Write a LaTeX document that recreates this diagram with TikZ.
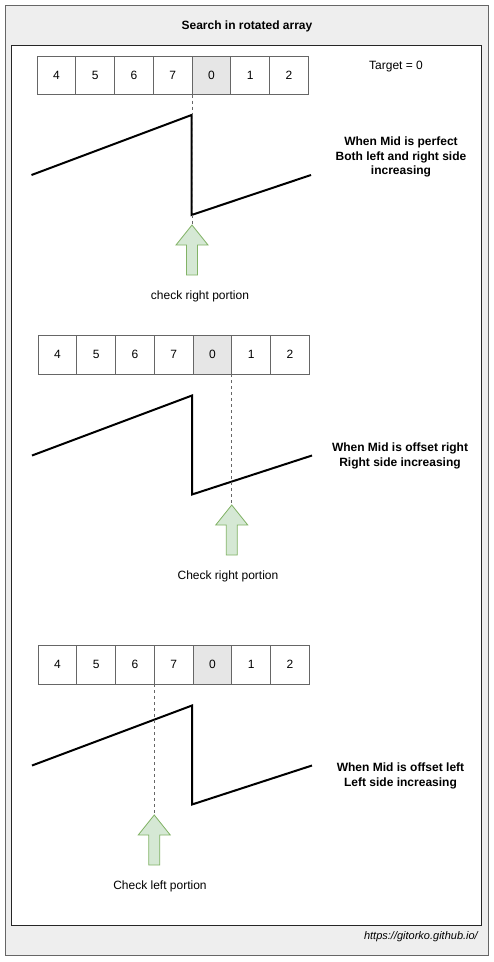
\documentclass[tikz,border=0pt]{standalone}
\usepackage{fontspec}
\setmainfont{Liberation Sans}
\definecolor{bggray}{HTML}{EEEEEE}
\definecolor{framegray}{HTML}{666666}
\definecolor{cellhl}{HTML}{E6E6E6}
\definecolor{greenfill}{HTML}{D5E8D4}
\definecolor{greendraw}{HTML}{82B366}
\begin{document}
\begin{tikzpicture}[x=1pt,y=-1pt,
  cellbox/.style={draw=framegray, line width=0.8pt, minimum width=38.75pt, minimum height=38.5pt, inner sep=0pt, outer sep=0pt, anchor=north west, font=\fontsize{12}{14}\selectfont},
  plain/.style={font=\fontsize{12}{14}\selectfont, inner sep=0pt},
  boldtxt/.style={font=\fontsize{12}{14.5}\selectfont\bfseries, align=center, inner sep=0pt},
  zig/.style={line width=2pt, line join=miter},
  guide/.style={draw=framegray, line width=0.8pt, dash pattern=on 3pt off 3pt},
  greenshape/.style={draw=greendraw, fill=greenfill, line width=0.8pt, line join=miter}]
\useasboundingbox (0,0) rectangle (494,962);
% frames
\draw[draw=framegray, fill=bggray, line width=1pt] (5.5,5.5) rectangle (488.5,955.5);
\draw[draw=black!85, fill=white, line width=1pt] (11.5,45.5) rectangle (481.5,925.5);
\node[font=\fontsize{12}{14}\selectfont\bfseries] (title) at (247,26) {Search in rotated array};
\node[font=\fontsize{11}{13}\selectfont\itshape, anchor=east, inner sep=0pt] (footer) at (478,937) {https://gitorko.github.io/};

% ---------- section 1 ----------
\foreach \v/\c [count=\i] in {4/white,5/white,6/white,7/white,0/cellhl,1/white,2/white}
  \node[cellbox, fill=\c] (a\i) at ({37+(\i-1)*38.75},56) {\v};
\node[plain] (target) at (396,67) {Target = 0};
\draw[zig] (31.5,175) -- (191.5,115) -- (191.5,215) -- (311,175);
\coordinate (g1) at (192,225);
\draw[greenshape] (g1) -- ++(16,20) -- ++(-10.5,0) -- ++(0,30) -- ++(-11,0) -- ++(0,-30) -- ++(-10.5,0) -- cycle;
\draw[guide] (a5.south west) -- (g1);
\node[plain] (l1) at (200,296) {check right portion};
\node[boldtxt] (r1) at (401,157) {When Mid is perfect\\Both left and right side\\increasing};

% ---------- section 2 ----------
\foreach \v/\c [count=\i] in {4/white,5/white,6/white,7/white,0/cellhl,1/white,2/white}
  \node[cellbox, fill=\c] (b\i) at ({38+(\i-1)*38.75},335.5) {\v};
\draw[zig] (32,455.5) -- (192,395.5) -- (192,494.5) -- (312,455.5);
\coordinate (g2) at (231.75,505);
\draw[greenshape] (g2) -- ++(16,20) -- ++(-10.5,0) -- ++(0,30) -- ++(-11,0) -- ++(0,-30) -- ++(-10.5,0) -- cycle;
\draw[guide] (b5.south east) -- (g2);
\node[plain] (l2) at (228,576) {Check right portion};
\node[boldtxt] (r2) at (400,456) {When Mid is offset right\\Right side increasing};

% ---------- section 3 ----------
\foreach \v/\c [count=\i] in {4/white,5/white,6/white,7/white,0/cellhl,1/white,2/white}
  \node[cellbox, fill=\c] (c\i) at ({38+(\i-1)*38.75},645.5) {\v};
\draw[zig] (32,765.5) -- (192,705.5) -- (192,804.5) -- (312,765.5);
\coordinate (g3) at (154.25,815);
\draw[greenshape] (g3) -- ++(16,20) -- ++(-10.5,0) -- ++(0,30) -- ++(-11,0) -- ++(0,-30) -- ++(-10.5,0) -- cycle;
\draw[guide] (c3.south east) -- (g3);
\node[plain] (l3) at (160,886) {Check left portion};
\node[boldtxt] (r3) at (400.5,776) {When Mid is offset left\\Left side increasing};
\end{tikzpicture}
\end{document}
